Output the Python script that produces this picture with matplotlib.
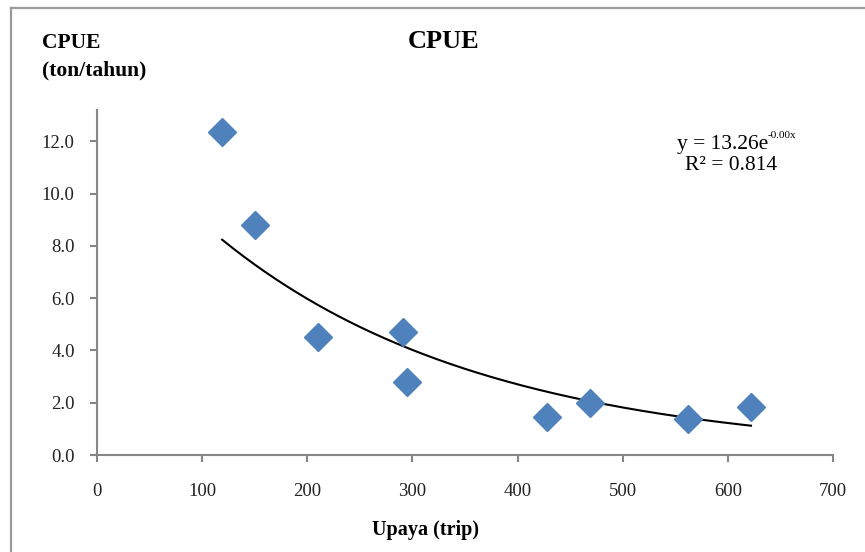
import matplotlib
matplotlib.use("Agg")
import matplotlib.pyplot as plt
from matplotlib.lines import Line2D
from matplotlib.ticker import FormatStrFormatter
import numpy as np

# data
upaya = [119, 150, 210, 291, 295, 428, 469, 562, 622]
cpue = [12.34, 8.79, 4.51, 4.70, 2.79, 1.45, 1.99, 1.38, 1.83]

plt.rcParams['font.family'] = ['Liberation Serif', 'DejaVu Serif']

W, H = 865, 552
fig = plt.figure(figsize=(W / 100, H / 100), dpi=100)
ax = fig.add_axes([97 / W, 1 - 455 / H, 736 / W, 345 / H])

# exponential trendline (least squares on ln y, like Excel)
b, ln_a = np.polyfit(upaya, np.log(cpue), 1)
xt = np.linspace(min(upaya), max(upaya), 200)
ax.plot(xt, np.exp(ln_a) * np.exp(b * xt), color='black', lw=1.5, zorder=2)

ax.plot(upaya, cpue, 'D', color='#4F81BD', ms=14, mec='#4F81BD', zorder=3, clip_on=False)

ax.set_xlim(0, 700)
ax.set_ylim(0, 13.2)
ax.set_xticks(range(0, 701, 100))
ax.set_yticks(np.arange(0, 12.1, 2))
ax.yaxis.set_major_formatter(FormatStrFormatter('%.1f'))

grey = '#868686'
for s in ['top', 'right']:
    ax.spines[s].set_visible(False)
for s in ['left', 'bottom']:
    ax.spines[s].set_color(grey)
    ax.spines[s].set_linewidth(1.5)
ax.tick_params(axis='both', direction='out', length=5, width=1.5, color=grey,
               labelsize=13.5, labelcolor='#222222')
ax.tick_params(axis='x', pad=15)
ax.tick_params(axis='y', pad=11)


def px(x, y):
    return x / W, 1 - y / H


fig.text(*px(444, 41), 'CPUE', ha='center', va='center', fontsize=19, fontweight='bold')
fig.text(*px(42, 43), 'CPUE', ha='left', va='center', fontsize=15.5, fontweight='bold')
fig.text(*px(42, 70), '(ton/tahun)', ha='left', va='center', fontsize=15.5, fontweight='bold')
fig.text(*px(426, 530), 'Upaya (trip)', ha='center', va='center', fontsize=14.5, fontweight='bold')

# trendline equation
fig.text(*px(768, 144), 'y = 13.26e', ha='right', va='center', fontsize=15.5)
fig.text(*px(768, 136), '-0.00x', ha='left', va='center', fontsize=8)
fig.text(*px(731, 166), 'R² = 0.814', ha='center', va='center', fontsize=15.5)

# chart area border (top and left visible)
fig.add_artist(Line2D([11 / W, 1], [1 - 8 / H, 1 - 8 / H], color='#9a9a9a', lw=1.6))
fig.add_artist(Line2D([11 / W, 11 / W], [1 - 8 / H, 0], color='#9a9a9a', lw=1.6))

fig.savefig('out.png', dpi=100)
